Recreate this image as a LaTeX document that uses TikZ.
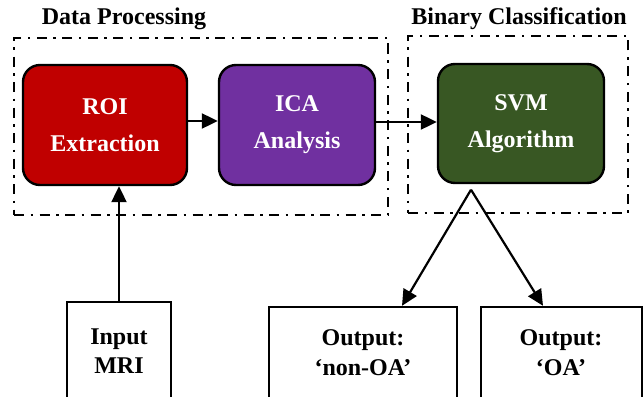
\documentclass[tikz,border=0pt]{standalone}
\usepackage{fontspec}
\setmainfont{Liberation Serif}
\usetikzlibrary{arrows.meta}
\definecolor{roired}{HTML}{C00000}
\definecolor{icapurple}{HTML}{7030A0}
\definecolor{svmgreen}{HTML}{385723}
\tikzset{
  stage/.style={draw=black, line width=2.4pt, rounded corners=17pt,
    text=white, align=center, inner sep=0pt,
    font=\bfseries\fontsize{24}{37}\selectfont},
  group/.style={draw=black, line width=2pt,
    dash pattern=on 10pt off 6.5pt on 2.5pt off 6.5pt},
  iobox/.style={draw=black, line width=2.4pt, inner sep=0pt},
  iotext/.style={align=center, inner sep=0pt,
    font=\bfseries\fontsize{24}{29.5}\selectfont},
  grouplabel/.style={anchor=base, inner sep=0pt,
    font=\bfseries\fontsize{24}{28}\selectfont},
  arr/.style={line width=2.2pt, -{Triangle[length=16pt,width=15pt]}},
}
\begin{document}
\begin{tikzpicture}[x=1pt, y=-1pt]
  \useasboundingbox (0,0) rectangle (644,396);
  \clip (0,0) rectangle (644,396);

  % group frames and their titles
  \node[group, minimum width=374pt, minimum height=177pt] (dpframe) at (201,126.5) {};
  \node[group, minimum width=220pt, minimum height=177pt] (bcframe) at (518,124.5) {};
  \node[grouplabel] (dplabel) at (124,25) {Data Processing};
  \node[grouplabel] (bclabel) at (519,25) {Binary Classification};

  % processing stages
  \node[stage, fill=roired, minimum width=164pt, minimum height=120pt] (roi) at (105,125) {ROI\\Extraction};
  \node[stage, fill=icapurple, minimum width=156pt, minimum height=120pt] (ica) at (297,125) {ICA\\Analysis};
  \node[stage, fill=svmgreen, minimum width=166pt, minimum height=119pt] (svm) at (521,123.5) {SVM\\Algorithm};

  % input and output boxes (their lower edges run past the page)
  \node[iobox, minimum width=104pt, minimum height=130pt] (input) at (119,367) {};
  \node[iotext] (inputtext) at (119,351) {Input\\MRI};
  \node[iobox, minimum width=188pt, minimum height=130pt] (nonoa) at (363,372) {};
  \node[iotext] (nonoatext) at (363,352.5) {Output:\\‘non-OA’};
  \node[iobox, minimum width=161pt, minimum height=130pt] (oa) at (561.5,372) {};
  \node[iotext] (oatext) at (561,352.5) {Output:\\‘OA’};

  % connectors (canvas shifts: positive yshift moves up)
  \draw[arr] ([yshift=4pt]roi.east) -- ([yshift=4pt]ica.west);
  \draw[arr] ([yshift=3pt]ica.east) -- ([yshift=1.5pt]svm.west);
  \draw[arr] (input.north) -- (input.north |- roi.south);
  \coordinate (split) at ([xshift=-50pt,yshift=-5.5pt]svm.south);
  \draw[arr] (split) -- ([xshift=39pt]nonoa.north);
  \draw[arr] (split) -- ([xshift=-18.5pt]oa.north);
\end{tikzpicture}
\end{document}
